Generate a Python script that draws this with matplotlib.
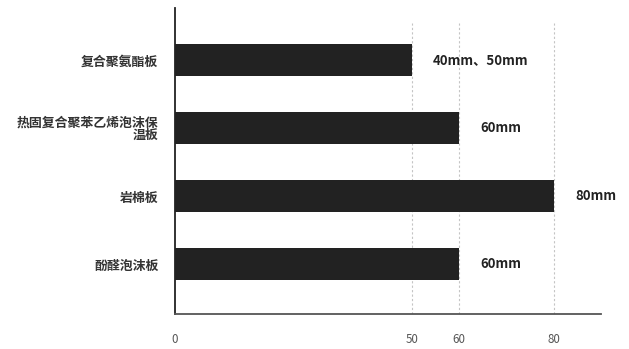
import matplotlib
matplotlib.use("Agg")
import matplotlib.pyplot as plt

plt.rcParams['font.family'] = ['Noto Sans CJK SC', 'DejaVu Sans']

categories = ["复合聚氨酯板", "热固复合聚苯乙烯泡沫保\n温板", "岩棉板", "酚醛泡沫板"]
values = [50, 60, 80, 60]
value_labels = ["40mm、50mm", "60mm", "80mm", "60mm"]
xticks = [0, 50, 60, 80]

fig = plt.figure(figsize=(6.29, 3.49), dpi=100)
ax = fig.add_axes([175/629, 1-314/349, (601-175)/629, (314-8)/349])

ypos = list(range(len(categories)))
ax.barh(ypos, values, height=0.46, color="#222222", zorder=3)
ax.set_xlim(0, 89.9)
ax.set_ylim(3.735, -0.765)

for x in xticks[1:]:
    ax.axvline(x, ymin=0, ymax=0.95, color="#c4c4c4", linestyle=(0, (2, 2)), linewidth=0.8, zorder=1)

for y, v, lab in zip(ypos, values, value_labels):
    ax.annotate(lab, xy=(v, y), xytext=(21, 0), textcoords="offset pixels",
                ha="left", va="center", fontsize=9.5, fontweight="bold", color="#222222")

ax.set_yticks(ypos)
ax.set_yticklabels(categories, fontsize=9.3, fontweight="bold", color="#333333", linespacing=0.85)
ax.set_xticks(xticks)
ax.set_xticklabels([str(t) for t in xticks], fontsize=8.3, color="#555555")
ax.tick_params(axis="both", length=0)
ax.tick_params(axis="x", pad=14)
ax.tick_params(axis="y", pad=12)

for s in ["top", "right"]:
    ax.spines[s].set_visible(False)
ax.spines["left"].set_color("#222222")
ax.spines["left"].set_linewidth(1.3)
ax.spines["bottom"].set_color("#555555")
ax.spines["bottom"].set_linewidth(1.3)

fig.savefig("out.png", dpi=100)
